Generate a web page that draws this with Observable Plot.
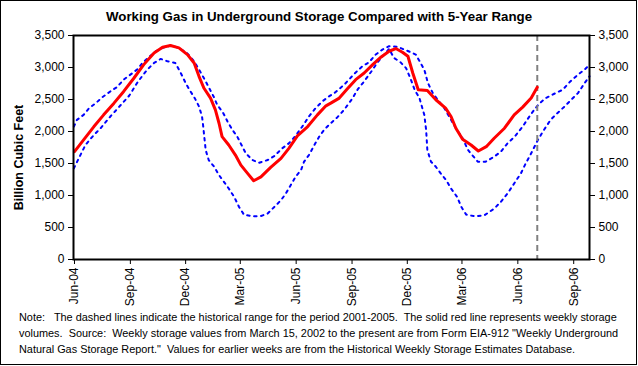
<!DOCTYPE html>
<html>
<head>
<meta charset="utf-8">
<script src="https://cdn.jsdelivr.net/npm/d3@7"></script>
<script src="https://cdn.jsdelivr.net/npm/@observablehq/plot@0.6"></script>
<style>
  html, body { margin: 0; padding: 0; background: #fff; }
  #wrap { position: relative; width: 638px; height: 366px; font-family: "Liberation Sans", Arial, sans-serif; }
  #border { position: absolute; left: 0; top: 0; width: 635px; height: 363px; border: 1px solid #000; }
  #title { position: absolute; left: 0; top: 10px; width: 638px; text-align: center; font-weight: bold; font-size: 13.3px; line-height: 14px; }
  #chart { position: absolute; left: 0; top: 24px; }
  #note { position: absolute; left: 19px; top: 309px; font-size: 10.9px; line-height: 16px; white-space: pre; }
</style>
</head>
<body>
<div id="wrap">
  <div id="border"></div>
  <div id="title">Working Gas in Underground Storage Compared with 5-Year Range</div>
  <div id="chart"></div>
  <div id="note"></div>
</div>
<script>
// Weekly working gas in storage (billion cubic feet)
const storageDates = ["2004-06-01","2004-06-16","2004-07-03","2004-07-19","2004-08-05","2004-08-21","2004-09-07","2004-09-23","2004-10-10","2004-10-24","2004-11-06","2004-11-20","2004-12-04","2004-12-15","2004-12-23","2004-12-31","2005-01-11","2005-01-19","2005-01-25","2005-01-30","2005-02-10","2005-02-21","2005-03-02","2005-03-13","2005-03-23","2005-04-04","2005-04-20","2005-05-07","2005-05-20","2005-06-03","2005-06-20","2005-07-06","2005-07-20","2005-07-28","2005-08-11","2005-08-24","2005-09-07","2005-09-21","2005-10-05","2005-10-19","2005-11-01","2005-11-12","2005-11-23","2005-12-02","2005-12-10","2005-12-19","2006-01-03","2006-01-17","2006-02-02","2006-02-11","2006-02-19","2006-03-02","2006-03-16","2006-03-28","2006-04-10","2006-04-23","2006-05-10","2006-05-26","2006-06-09","2006-06-23","2006-07-03"];
const storageValues = [1685,1868,2077,2260,2443,2626,2836,3045,3228,3317,3343,3307,3202,3071,2862,2679,2522,2339,2129,1920,1789,1632,1475,1345,1230,1292,1439,1580,1737,1931,2077,2260,2401,2443,2522,2663,2810,2914,3045,3165,3254,3296,3239,3176,2914,2653,2642,2496,2365,2234,2051,1878,1789,1695,1763,1894,2051,2260,2381,2522,2690];

// 5-year maximum (2001-2005)
const maxDates = ["2004-05-31","2004-06-05","2004-06-16","2004-06-25","2004-07-06","2004-07-17","2004-07-30","2004-08-10","2004-08-21","2004-09-01","2004-09-12","2004-09-21","2004-10-02","2004-10-13","2004-10-24","2004-11-06","2004-11-20","2004-12-04","2004-12-15","2004-12-23","2004-12-31","2005-01-16","2005-01-22","2005-02-01","2005-02-08","2005-02-16","2005-02-24","2005-03-03","2005-03-10","2005-03-21","2005-04-01","2005-04-15","2005-04-26","2005-05-09","2005-05-20","2005-05-31","2005-06-11","2005-06-22","2005-07-03","2005-07-14","2005-07-25","2005-08-05","2005-08-19","2005-09-05","2005-09-18","2005-09-29","2005-10-10","2005-10-21","2005-11-01","2005-11-15","2005-11-29","2005-12-15","2005-12-29","2006-01-04","2006-01-12","2006-01-20","2006-01-31","2006-02-11","2006-02-19","2006-03-02","2006-03-11","2006-03-27","2006-04-09","2006-04-23","2006-05-04","2006-05-15","2006-05-26","2006-06-09","2006-06-20","2006-06-28","2006-07-06","2006-07-17","2006-07-31","2006-08-14","2006-08-25","2006-09-08","2006-09-19","2006-09-27"];
const maxValues = [2077,2182,2260,2365,2443,2537,2626,2694,2810,2888,2967,3071,3165,3254,3307,3343,3307,3218,3097,2967,2836,2548,2417,2286,2156,2025,1920,1789,1659,1554,1512,1554,1617,1737,1815,1931,2077,2234,2365,2470,2548,2616,2731,2904,3019,3082,3202,3280,3333,3322,3270,3202,2967,2757,2600,2496,2365,2182,2051,1894,1711,1528,1528,1606,1685,1815,1910,2077,2234,2339,2433,2522,2590,2653,2768,2888,2967,3045];

// 5-year minimum (2001-2005)
const minDates = ["2004-05-31","2004-06-08","2004-06-19","2004-07-03","2004-07-14","2004-07-30","2004-08-19","2004-08-30","2004-09-12","2004-09-21","2004-09-29","2004-10-10","2004-10-21","2004-11-01","2004-11-14","2004-11-23","2004-12-01","2004-12-09","2004-12-16","2004-12-23","2004-12-28","2004-12-30","2005-01-01","2005-01-03","2005-01-08","2005-01-17","2005-01-25","2005-02-02","2005-02-10","2005-02-19","2005-02-27","2005-03-07","2005-03-21","2005-04-04","2005-04-15","2005-04-26","2005-05-07","2005-05-15","2005-05-23","2005-05-31","2005-06-09","2005-06-14","2005-06-22","2005-07-01","2005-07-09","2005-07-17","2005-07-25","2005-08-08","2005-08-19","2005-09-02","2005-09-10","2005-09-21","2005-10-05","2005-10-13","2005-10-24","2005-11-01","2005-11-09","2005-11-20","2005-11-29","2005-12-07","2005-12-13","2005-12-21","2005-12-29","2006-01-01","2006-01-03","2006-01-09","2006-01-17","2006-01-25","2006-02-03","2006-02-11","2006-02-21","2006-02-28","2006-03-08","2006-03-22","2006-04-07","2006-04-23","2006-05-04","2006-05-15","2006-05-26","2006-06-06","2006-06-14","2006-06-23","2006-07-04","2006-07-14","2006-07-25","2006-08-05","2006-08-17","2006-08-28","2006-09-08","2006-09-19","2006-09-27"];
const minValues = [1423,1580,1789,1946,2051,2234,2443,2558,2757,2872,2967,3071,3134,3097,3071,2914,2757,2626,2522,2391,2234,2077,1894,1711,1554,1449,1318,1214,1109,978,821,701,675,680,717,821,926,1031,1161,1292,1397,1528,1632,1789,1920,2025,2103,2224,2339,2522,2653,2783,2967,3082,3202,3290,3150,3080,2990,2810,2653,2522,2260,2025,1711,1528,1449,1345,1240,1109,978,821,701,675,691,795,900,1031,1188,1345,1502,1659,1868,2025,2182,2286,2391,2496,2600,2757,2862];

const xTickLabels = ["2004-06-01","2004-09-01","2004-12-01","2005-03-01","2005-06-01","2005-09-01","2005-12-01","2006-03-01","2006-06-01","2006-09-01"];
const yTicks = [0,500,1000,1500,2000,2500,3000,3500];
const currentWeek = "2006-07-03";

const noteLines = [
  "Note:   The dashed lines indicate the historical range for the period 2001-2005.  The solid red line represents weekly storage",
  "volumes.  Source:  Weekly storage values from March 15, 2002 to the present are from Form EIA-912 \"Weekly Underground",
  "Natural Gas Storage Report.\"  Values for earlier weeks are from the Historical Weekly Storage Estimates Database."
];

const toRows = (ds, vs) => ds.map((d, i) => ({date: new Date(d), value: vs[i]}));
const storage = toRows(storageDates, storageValues);
const maxRange = toRows(maxDates, maxValues);
const minRange = toRows(minDates, minValues);

const chart = Plot.plot({
  width: 638,
  height: 286,
  marginTop: 11,
  marginBottom: 51,
  marginLeft: 73,
  marginRight: 49,
  style: {fontFamily: "'Liberation Sans', Arial, sans-serif", fontSize: "12px", color: "#000", background: "transparent"},
  x: {type: "utc", domain: [new Date("2004-05-30T09:00Z"), new Date("2006-09-27T00:00Z")]},
  y: {domain: [0, 3500]},
  marks: [
    Plot.line(maxRange, {x: "date", y: "value", stroke: "#0000ff", strokeWidth: 2, strokeDasharray: "2.5,4.5"}),
    Plot.line(minRange, {x: "date", y: "value", stroke: "#0000ff", strokeWidth: 2, strokeDasharray: "2.5,4.5"}),
    Plot.ruleX([new Date(currentWeek)], {stroke: "#808080", strokeWidth: 2, strokeDasharray: "6,4"}),
    Plot.line(storage, {x: "date", y: "value", stroke: "#ff0000", strokeWidth: 3}),
    Plot.frame({stroke: "#000", strokeWidth: 2}),
    Plot.axisY({anchor: "left", ticks: yTicks, tickFormat: d3.format(","), tickSize: 5, tickPadding: 4, label: null}),
    Plot.axisY({anchor: "right", ticks: yTicks, tickFormat: d3.format(","), tickSize: 5, tickPadding: 4, label: null}),
    Plot.axisX({ticks: xTickLabels.map(d => new Date(d)), tickFormat: d3.utcFormat("%b-%y"), tickRotate: -90, tickSize: 5, tickPadding: 3, label: null}),
    Plot.text(["Billion Cubic Feet"], {frameAnchor: "left", textAnchor: "middle", rotate: -90, dx: -55, dy: 10, fontWeight: "bold", fontSize: 12.5})
  ]
});
document.getElementById("chart").appendChild(chart);

const note = document.getElementById("note");
noteLines.forEach(t => { const d = document.createElement("div"); d.textContent = t; note.appendChild(d); });
</script>
</body>
</html>
